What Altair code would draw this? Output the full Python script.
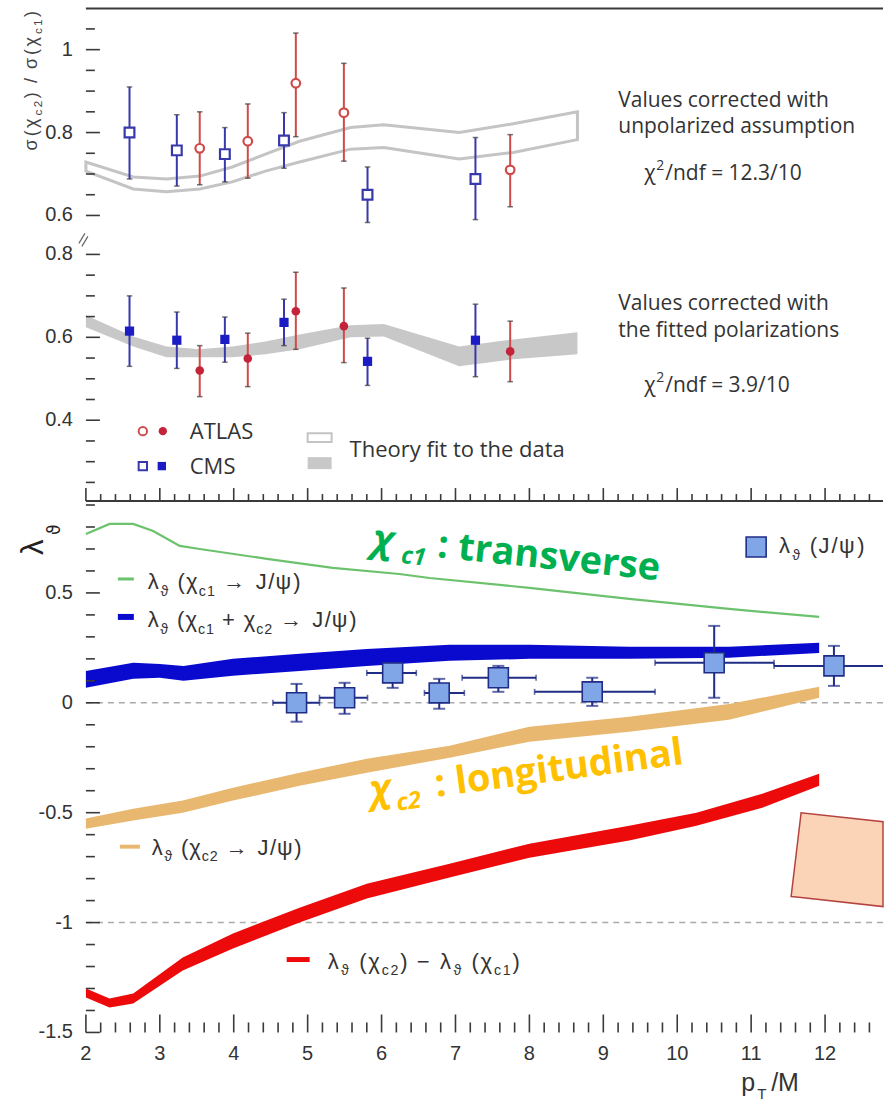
import math
import altair as alt
import pandas as pd

# ---------------- sigma(chi_c2) / sigma(chi_c1) ----------------
cms_pt = [2.59, 3.23, 3.88, 4.68, 5.81, 7.27]
cms_unpol = [0.800, 0.757, 0.748, 0.781, 0.650, 0.688]
cms_unpol_lo = [0.688, 0.671, 0.681, 0.714, 0.583, 0.590]
cms_unpol_hi = [0.910, 0.843, 0.812, 0.848, 0.717, 0.788]
cms_pol = [0.615, 0.593, 0.595, 0.636, 0.542, 0.593]
cms_pol_lo = [0.530, 0.525, 0.540, 0.580, 0.484, 0.505]
cms_pol_hi = [0.700, 0.661, 0.649, 0.692, 0.598, 0.680]

atlas_pt = [3.54, 4.19, 4.84, 5.49, 7.74]
atlas_unpol = [0.762, 0.779, 0.919, 0.848, 0.710]
atlas_unpol_lo = [0.674, 0.690, 0.790, 0.731, 0.621]
atlas_unpol_hi = [0.850, 0.869, 1.040, 0.967, 0.795]
atlas_pol = [0.520, 0.549, 0.663, 0.627, 0.566]
atlas_pol_lo = [0.457, 0.481, 0.571, 0.539, 0.493]
atlas_pol_hi = [0.580, 0.610, 0.757, 0.719, 0.639]

# theory fit to the ratio
fit_pt = [2.0, 2.64, 3.09, 3.54, 3.98, 4.43, 4.89, 5.58, 6.03, 7.05, 7.78, 8.65]
fit_unpol_lo = [0.707, 0.664, 0.657, 0.664, 0.681, 0.707, 0.729, 0.760, 0.764, 0.736, 0.752, 0.783]
fit_unpol_hi = [0.729, 0.693, 0.688, 0.695, 0.717, 0.748, 0.779, 0.812, 0.819, 0.800, 0.821, 0.850]
fit_pol_lo = [0.624, 0.578, 0.552, 0.552, 0.552, 0.559, 0.571, 0.600, 0.602, 0.530, 0.547, 0.559]
fit_pol_hi = [0.653, 0.602, 0.578, 0.571, 0.578, 0.590, 0.607, 0.629, 0.632, 0.578, 0.595, 0.612]

# ---------------- lambda_theta predictions ----------------
chic1_pt = [2.0, 2.32, 2.64, 2.91, 3.27, 3.54, 4.45, 5.34, 6.24, 6.65, 8.0, 9.35, 10.7, 11.92]
chic1_lam = [0.768, 0.814, 0.814, 0.782, 0.714, 0.700, 0.655, 0.614, 0.586, 0.568, 0.523, 0.473, 0.427, 0.391]

mix_pt = [2.0, 2.64, 3.0, 3.32, 3.99, 4.89, 5.80, 6.92, 8.0, 9.35, 10.7, 11.92]
mix_lo = [0.068, 0.109, 0.114, 0.100, 0.123, 0.145, 0.168, 0.191, 0.200, 0.200, 0.205, 0.227]
mix_hi = [0.145, 0.182, 0.177, 0.168, 0.200, 0.223, 0.245, 0.264, 0.264, 0.255, 0.255, 0.273]

chic2_pt = [2.0, 2.64, 3.31, 3.99, 4.89, 5.80, 6.92, 8.0, 9.35, 10.7, 11.92]
chic2_lo = [-0.573, -0.536, -0.500, -0.445, -0.377, -0.318, -0.250, -0.177, -0.132, -0.077, 0.023]
chic2_hi = [-0.527, -0.482, -0.445, -0.386, -0.318, -0.255, -0.195, -0.109, -0.064, -0.005, 0.073]

diff_pt = [2.0, 2.32, 2.64, 3.31, 3.99, 4.89, 5.80, 6.92, 8.0, 9.35, 10.26, 11.15, 11.92]
diff_lo = [-1.341, -1.386, -1.368, -1.218, -1.118, -1.000, -0.891, -0.795, -0.705, -0.627, -0.559, -0.477, -0.377]
diff_hi = [-1.300, -1.345, -1.323, -1.159, -1.050, -0.932, -0.823, -0.732, -0.641, -0.559, -0.500, -0.414, -0.323]

# J/psi measurement
jpsi_pt = [4.85, 5.50, 6.15, 6.78, 7.58, 8.85, 10.50, 12.12]
jpsi_pt_lo = [4.53, 5.16, 5.80, 6.58, 7.09, 8.07, 9.70, 11.31]
jpsi_pt_hi = [5.16, 5.81, 6.47, 7.12, 8.09, 9.70, 11.31, 13.00]
jpsi_lam = [0.000, 0.023, 0.136, 0.045, 0.114, 0.050, 0.182, 0.168]
jpsi_lam_lo = [-0.086, -0.050, 0.068, -0.027, 0.050, -0.014, 0.023, 0.077]
jpsi_lam_hi = [0.086, 0.091, 0.182, 0.109, 0.168, 0.114, 0.350, 0.259]

reference_levels = [0.0, -1.0]

# ---------------- tick positions and labels ----------------
x_major = [2, 3, 4, 5, 6, 7, 8, 9, 10, 11, 12]
x_minor = [round(2 + 0.2 * i, 1) for i in range(1, 54) if i % 5]
lam_major = [-1.5, -1.0, -0.5, 0.0, 0.5]
lam_minor = [round(-1.5 + 0.1 * i, 1) for i in range(1, 25) if i % 5]
ratio_major_low = [0.4, 0.6, 0.8]
ratio_minor_low = [0.25, 0.3, 0.35, 0.45, 0.5, 0.55, 0.65, 0.7, 0.75]
ratio_major_up = [0.6, 0.8, 1.0]
ratio_minor_up = [0.65, 0.7, 0.75, 0.85, 0.9, 0.95, 1.05]

# ---------------- geometry ----------------
LEFT, TOP = 86, 8
PLOT_W = 798
X_MIN = 2.0
X_MAX = 2.0 + PLOT_W / 74.0
TOP_H = 493
R_MIN, R_MAX = 0.205, 1.393
BREAK_SHIFT = 0.294          # upper (unpolarized) segment of the broken axis
BOT_Y0 = TOP + TOP_H
BOT_H = 532
L_MIN, L_MAX = -1.5, 0.918

xs = alt.Scale(domain=[X_MIN, X_MAX], nice=False, zero=False)
ys_top = alt.Scale(domain=[R_MIN, R_MAX], nice=False, zero=False)
ys_bot = alt.Scale(domain=[L_MIN, L_MAX], nice=False, zero=False)


def px_x(px):
    return X_MIN + (px - LEFT) * (X_MAX - X_MIN) / PLOT_W


def px_top(py):
    return R_MAX - (py - TOP) * (R_MAX - R_MIN) / TOP_H


def px_bot(py):
    return L_MAX - (py - BOT_Y0) * (L_MAX - L_MIN) / BOT_H


def X(field, **kw):
    return alt.X(field, type="quantitative", scale=xs, axis=None, **kw)


def Yt(field, **kw):
    return alt.Y(field, type="quantitative", scale=ys_top, axis=None, **kw)


def Yb(field, **kw):
    return alt.Y(field, type="quantitative", scale=ys_bot, axis=None, **kw)


LIB_W = {'λ': 0.5, 'ϑ': 0.6, 'χ': 0.5, 'ψ': 0.7, 'σ': 0.57, '(': 0.333, ')': 0.333,
         ' ': 0.278, '→': 1.0, 'J': 0.5, '/': 0.278, '+': 0.584, '−': 0.584,
         'c': 0.5, '1': 0.556, '2': 0.556}


def rich(x0, y0, runs, size, length=None, angle=0.0, sub_drop=0.3, sub_scale=0.65):
    """Lay out text runs (normal / subscript) glyph by glyph along a baseline."""
    a = math.radians(angle)
    ux, uy = math.cos(a), math.sin(a)
    nx, ny = -math.sin(a), math.cos(a)

    def fsz(kind):
        return size if kind == "n" else size * sub_scale

    natural = sum(LIB_W.get(ch, 0.55) * fsz(k) for t, k in runs for ch in t)
    stretch = length / natural if length else 1.0
    out, s = [], 0.0
    for t, k in runs:
        f = fsz(k)
        off = {"n": 0.0, "sub": sub_drop * size, "sup": -0.4 * size}[k]
        for ch in t:
            if ch != " ":
                out.append((x0 + ux * s + nx * off, y0 + uy * s + ny * off, ch, f))
            s += LIB_W.get(ch, 0.55) * f * stretch
    return out


def text_layer(rows, yconv, yscale, font, color, weight="normal", style="normal",
               angle=0, align="left", baseline="alphabetic"):
    df = pd.DataFrame({
        "x": [px_x(r[0]) for r in rows],
        "y": [yconv(r[1]) for r in rows],
        "t": [r[2] for r in rows],
        "fs": [r[3] for r in rows],
    })
    mk = dict(font=font, color=color, fontWeight=weight, fontStyle=style,
              align=align, baseline=baseline)
    if angle:
        mk["angle"] = angle
    return alt.Chart(df).mark_text(**mk).encode(
        x=X("x"), y=alt.Y("y:Q", scale=yscale, axis=None), text="t:N",
        size=alt.Size("fs:Q", scale=None, legend=None))


def tick_labels(values, positions, yscale, axis):
    """Numeric tick labels placed with the panel scales."""
    if axis == "y":
        df = pd.DataFrame({"x": px_x(LEFT - 13), "y": positions, "t": [f"{v:g}" for v in values]})
        mk = dict(align="right", baseline="middle")
    else:
        df = pd.DataFrame({"x": positions, "y": px_bot(BOT_Y0 + BOT_H + 12), "t": [f"{v:g}" for v in values]})
        mk = dict(align="center", baseline="top")
    return alt.Chart(df).mark_text(font="Liberation Sans", fontSize=20, color=TEXT_C, **mk).encode(
        x=X("x"), y=alt.Y("y:Q", scale=yscale, axis=None), text="t:N")


AXIS_C = "#3a3a3a"
TEXT_C = "#333333"
CMS_LINE, CMS_FILL = "#3838ad", "#1c1cc4"
ATLAS_LINE, ATLAS_FILL = "#cf4a4a", "#c4243a"
FIT_OUTLINE, FIT_FILL = "#c4c4c4", "#c8c8c8"
CAP_H = "M-1,0L1,0"
CAP_V = "M0,-1L0,1"
AXIS_LINE = dict(labels=False, ticks=False, title=None, grid=False, domainColor=AXIS_C, domainWidth=2)

# ======================= upper panel =======================
cms = pd.DataFrame({"pt": cms_pt, "u": cms_unpol, "ulo": cms_unpol_lo, "uhi": cms_unpol_hi,
                    "p": cms_pol, "plo": cms_pol_lo, "phi": cms_pol_hi})
atlas = pd.DataFrame({"pt": atlas_pt, "u": atlas_unpol, "ulo": atlas_unpol_lo, "uhi": atlas_unpol_hi,
                      "p": atlas_pol, "plo": atlas_pol_lo, "phi": atlas_pol_hi})
fit = pd.DataFrame({"pt": fit_pt, "ulo": fit_unpol_lo, "uhi": fit_unpol_hi,
                    "plo": fit_pol_lo, "phi": fit_pol_hi})


def lift(ch):
    # unpolarized values live on the upper segment of the broken axis
    return ch.transform_calculate(
        uc=f"datum.u + {BREAK_SHIFT}", ulo_c=f"datum.ulo + {BREAK_SHIFT}",
        uhi_c=f"datum.uhi + {BREAK_SHIFT}")


top_axis = alt.Chart(pd.DataFrame({"x": [X_MIN], "y": [0.5]})).mark_point(opacity=0).encode(
    x=X("x"), y=alt.Y("y:Q", scale=ys_top, axis=alt.Axis(**AXIS_LINE)))

fit_unpol = lift(alt.Chart(fit.assign(u=0.0))).mark_area(
    fillOpacity=0, stroke=FIT_OUTLINE, strokeWidth=3).encode(x=X("pt"), y=Yt("ulo_c"), y2="uhi_c:Q")
fit_pol = alt.Chart(fit).mark_area(color=FIT_FILL).encode(x=X("pt"), y=Yt("plo"), y2="phi:Q")

top_layers = [top_axis, fit_unpol, fit_pol]
for df, line_c, fill_c, shape, osize, fsize in [
        (cms, CMS_LINE, CMS_FILL, "square", 95, 85),
        (atlas, ATLAS_LINE, ATLAS_FILL, "circle", 75, 75)]:
    top_layers += [
        lift(alt.Chart(df)).mark_rule(color=line_c, strokeWidth=2).encode(
            x=X("pt"), y=Yt("ulo_c"), y2="uhi_c:Q"),
        lift(alt.Chart(df)).transform_fold(["ulo_c", "uhi_c"], as_=["k", "v"]).mark_point(
            shape=CAP_H, size=30, filled=False, color=AXIS_C, strokeWidth=1.5).encode(
            x=X("pt"), y=Yt("v")),
        alt.Chart(df).mark_rule(color=line_c, strokeWidth=2).encode(
            x=X("pt"), y=Yt("plo"), y2="phi:Q"),
        alt.Chart(df).transform_fold(["plo", "phi"], as_=["k", "v"]).mark_point(
            shape=CAP_H, size=30, filled=False, color=AXIS_C, strokeWidth=1.5).encode(
            x=X("pt"), y=Yt("v")),
        lift(alt.Chart(df)).mark_point(shape=shape, size=osize, filled=True, fill="white",
                                       stroke=line_c, strokeWidth=2.2, opacity=1).encode(
            x=X("pt"), y=Yt("uc")),
        alt.Chart(df).mark_point(shape=shape, size=fsize, filled=True, color=fill_c,
                                 opacity=1).encode(x=X("pt"), y=Yt("p")),
    ]

# legend of the upper panel
leg_pts = pd.DataFrame({
    "x": [px_x(143), px_x(163), px_x(143), px_x(162)],
    "y": [px_top(431), px_top(431), px_top(466), px_top(466)],
    "exp": ["ATLAS", "ATLAS", "CMS", "CMS"],
    "kind": ["open", "full", "open", "full"],
})
top_layers += [
    alt.Chart(leg_pts[leg_pts.kind == "open"]).mark_point(filled=True, fill="white", strokeWidth=2,
                                                          size=70, opacity=1).encode(
        x=X("x"), y=Yt("y"),
        shape=alt.Shape("exp:N", scale=alt.Scale(domain=["ATLAS", "CMS"], range=["circle", "square"]), legend=None),
        stroke=alt.Stroke("exp:N", scale=alt.Scale(domain=["ATLAS", "CMS"], range=[ATLAS_LINE, CMS_LINE]), legend=None)),
    alt.Chart(leg_pts[leg_pts.kind == "full"]).mark_point(filled=True, size=70, opacity=1).encode(
        x=X("x"), y=Yt("y"),
        shape=alt.Shape("exp:N", scale=alt.Scale(domain=["ATLAS", "CMS"], range=["circle", "square"]), legend=None),
        color=alt.Color("exp:N", scale=alt.Scale(domain=["ATLAS", "CMS"], range=[ATLAS_FILL, CMS_FILL]), legend=None)),
    alt.Chart(pd.DataFrame({"x": [px_x(308)], "x2": [px_x(332)], "y": [px_top(433)], "y2": [px_top(442)]}))
    .mark_rect(fillOpacity=0, stroke=FIT_OUTLINE, strokeWidth=2).encode(x=X("x"), x2="x2:Q", y=Yt("y"), y2="y2:Q"),
    alt.Chart(pd.DataFrame({"x": [px_x(308)], "x2": [px_x(332)], "y": [px_top(457)], "y2": [px_top(469)]}))
    .mark_rect(color=FIT_FILL).encode(x=X("x"), x2="x2:Q", y=Yt("y"), y2="y2:Q"),
    text_layer([(190, 439, "ATLAS", 22), (190, 474, "CMS", 22), (350, 457, "Theory fit to the data", 22)],
               px_top, ys_top, "Open Sans", TEXT_C),
    text_layer([(619, 106, "Values corrected with", 21), (619, 133, "unpolarized assumption", 21),
                (645, 180, "χ", 21), (657, 170, "2", 14), (666, 180, "/ndf = 12.3/10", 21),
                (619, 310, "Values corrected with", 21), (619, 337, "the fitted polarizations", 21),
                (645, 392, "χ", 21), (657, 382, "2", 14), (666, 392, "/ndf = 3.9/10", 21)],
               px_top, ys_top, "Open Sans", TEXT_C),
    # y-axis title
    text_layer(rich(37, 150, [("σ(χ", "n"), ("c2", "sub"), (") / σ(χ", "n"), ("c1", "sub"), (")", "n")],
                    18, length=142, angle=270),
               px_top, ys_top, "Liberation Sans", "#444444", angle=270),
    # tick labels of the broken axis
    tick_labels(ratio_major_low + ratio_major_up,
                ratio_major_low + [v + BREAK_SHIFT for v in ratio_major_up], ys_top, "y"),
]

# inward ticks of the upper panel
ty_rows = [(v, 14) for v in ratio_major_low] + [(v, 9) for v in ratio_minor_low] + \
          [(v + BREAK_SHIFT, 14) for v in ratio_major_up] + [(v + BREAK_SHIFT, 9) for v in ratio_minor_up]
top_yticks = pd.DataFrame({"v": [r[0] for r in ty_rows], "x": X_MIN,
                           "x2": [px_x(LEFT + r[1]) for r in ty_rows]})
tx_rows = [(v, 13) for v in x_major] + [(v, 7) for v in x_minor]
top_xticks = pd.DataFrame({"v": [r[0] for r in tx_rows], "y": R_MIN,
                           "y2": [px_top(BOT_Y0 - r[1]) for r in tx_rows]})
top_layers += [
    alt.Chart(top_yticks).mark_rule(color=AXIS_C, strokeWidth=1.6).encode(x=X("x"), x2="x2:Q", y=Yt("v")),
    alt.Chart(top_xticks).mark_rule(color=AXIS_C, strokeWidth=1.6).encode(x=X("v"), y=Yt("y"), y2="y2:Q"),
    # frame top edge
    alt.Chart(pd.DataFrame({"x": [X_MIN], "x2": [X_MAX], "y": [R_MAX]})).mark_rule(
        color=AXIS_C, strokeWidth=2).encode(x=X("x"), x2="x2:Q", y=Yt("y")),
    # axis-break marks
    alt.Chart(pd.DataFrame({"x": [px_x(79), px_x(82)], "x2": [px_x(85), px_x(88)],
                            "y": [px_top(243), px_top(246)], "y2": [px_top(233), px_top(236)]}))
    .mark_rule(color="#666666", strokeWidth=1.2).encode(x=X("x"), x2="x2:Q", y=Yt("y"), y2="y2:Q"),
    # page-origin anchor
    alt.Chart(pd.DataFrame({"a": [0]})).mark_rule(opacity=0).encode(
        x=alt.value(-LEFT), x2=alt.value(-LEFT + 2), y=alt.value(-TOP), y2=alt.value(-TOP + 2)),
]
top = alt.layer(*top_layers).properties(width=PLOT_W, height=TOP_H)

# ======================= lower panel =======================
GREEN, MIX, CHIC2, DIFF = "#6cc26c", "#0a0acf", "#e9b870", "#ec0a0a"
JPSI_FILL, JPSI_EDGE = "#80a6e8", "#1f2d86"

bot_axis = alt.Chart(pd.DataFrame({"x": [X_MIN], "y": [0.0]})).mark_point(opacity=0).encode(
    x=alt.X("x:Q", scale=xs, axis=alt.Axis(**AXIS_LINE)),
    y=alt.Y("y:Q", scale=ys_bot, axis=alt.Axis(**AXIS_LINE)))

refs = alt.Chart(pd.DataFrame({"v": reference_levels})).mark_rule(
    color="#aaaaaa", strokeDash=[6, 5], strokeWidth=1.6).encode(y=Yb("v"))

bands = [
    alt.Chart(pd.DataFrame({"pt": chic2_pt, "lo": chic2_lo, "hi": chic2_hi})).mark_area(
        color=CHIC2, opacity=1).encode(x=X("pt"), y=Yb("lo"), y2="hi:Q"),
    alt.Chart(pd.DataFrame({"pt": mix_pt, "lo": mix_lo, "hi": mix_hi})).mark_area(
        color=MIX, opacity=1).encode(x=X("pt"), y=Yb("lo"), y2="hi:Q"),
    alt.Chart(pd.DataFrame({"pt": diff_pt, "lo": diff_lo, "hi": diff_hi})).mark_area(
        color=DIFF, opacity=1).encode(x=X("pt"), y=Yb("lo"), y2="hi:Q"),
    alt.Chart(pd.DataFrame({"pt": chic1_pt, "lam": chic1_lam})).mark_line(
        color=GREEN, strokeWidth=2.2).encode(x=X("pt"), y=Yb("lam")),
]

jpsi = pd.DataFrame({"pt": jpsi_pt, "ptlo": jpsi_pt_lo, "pthi": jpsi_pt_hi,
                     "lam": jpsi_lam, "lo": jpsi_lam_lo, "hi": jpsi_lam_hi})
jpsi_layers = [
    alt.Chart(jpsi).mark_rule(color=JPSI_EDGE, strokeWidth=2, clip=True).encode(
        x=X("ptlo"), x2="pthi:Q", y=Yb("lam")),
    alt.Chart(jpsi).transform_fold(["ptlo", "pthi"], as_=["k", "v"]).mark_point(
        shape=CAP_V, size=36, filled=False, color=JPSI_EDGE, strokeWidth=1.6, clip=True).encode(
        x=X("v"), y=Yb("lam")),
    alt.Chart(jpsi).mark_rule(color=JPSI_EDGE, strokeWidth=2).encode(x=X("pt"), y=Yb("lo"), y2="hi:Q"),
    alt.Chart(jpsi).transform_fold(["lo", "hi"], as_=["k", "v"]).mark_point(
        shape=CAP_H, size=144, filled=False, color=JPSI_EDGE, strokeWidth=2).encode(
        x=X("pt"), y=Yb("v")),
    alt.Chart(jpsi).mark_point(shape="square", size=400, filled=True, fill=JPSI_FILL,
                               stroke=JPSI_EDGE, strokeWidth=1.6, opacity=1).encode(
        x=X("pt"), y=Yb("lam")),
]

# legend of the lower panel
leg_lines = pd.DataFrame({
    "x": [px_x(118), px_x(118), px_x(120), px_x(287)],
    "x2": [px_x(134), px_x(134), px_x(140), px_x(310)],
    "y": [px_bot(579), px_bot(617), px_bot(847), px_bot(960)],
    "s": ["g", "b", "o", "r"],
})
legend_layers = []
for key, col, w in [("g", GREEN, 3), ("b", MIX, 6), ("o", CHIC2, 4), ("r", DIFF, 5)]:
    legend_layers.append(alt.Chart(leg_lines[leg_lines.s == key]).mark_rule(
        color=col, strokeWidth=w).encode(x=X("x"), x2="x2:Q", y=Yb("y")))

LAM = [("λ", "n"), ("ϑ", "sub")]
leg_rows = (
    rich(148, 589, LAM + [(" (χ", "n"), ("c1", "sub"), (" → J/ψ)", "n")], 22, length=154)
    + rich(148, 627, LAM + [(" (χ", "n"), ("c1", "sub"), (" + χ", "n"), ("c2", "sub"), (" → J/ψ)", "n")],
           22, length=210)
    + rich(152, 855, LAM + [(" (χ", "n"), ("c2", "sub"), (" → J/ψ)", "n")], 22, length=151)
    + rich(328, 969, LAM + [(" (χ", "n"), ("c2", "sub"), (") − λ", "n"), ("ϑ", "sub"),
                            (" (χ", "n"), ("c1", "sub"), (")", "n")], 22, length=194)
    + rich(780, 553, LAM + [(" (J/ψ)", "n")], 22, length=87)
)
legend_layers += [
    text_layer(leg_rows, px_bot, ys_bot, "Liberation Sans", TEXT_C),
    alt.Chart(pd.DataFrame({"x": [px_x(757)], "y": [px_bot(547)]})).mark_point(
        shape="square", size=400, filled=True, fill=JPSI_FILL, stroke=JPSI_EDGE,
        strokeWidth=1.6, opacity=1).encode(x=X("x"), y=Yb("y")),
]

# polarization annotations
GREEN_TXT, GOLD_TXT = "#00b050", "#ffc000"
notes = [
    text_layer([(372, 551, "χ", 38)], px_bot, ys_bot, "Open Sans", GREEN_TXT, "bold", "italic", angle=6),
    text_layer([(401, 563, "c1", 24)], px_bot, ys_bot, "Open Sans", GREEN_TXT, "bold", "italic", angle=6),
    text_layer([(437, 557, ": transverse", 38)], px_bot, ys_bot, "Open Sans", GREEN_TXT, "bold", angle=6),
    text_layer([(372, 803, "χ", 38)], px_bot, ys_bot, "Open Sans", GOLD_TXT, "bold", "italic", angle=352.5),
    text_layer([(398, 811, "c2", 24)], px_bot, ys_bot, "Open Sans", GOLD_TXT, "bold", "italic", angle=352.5),
    text_layer([(437, 797, ": longitudinal", 38)], px_bot, ys_bot, "Open Sans", GOLD_TXT, "bold", angle=352.5),
]

# overlaid callout box
box = pd.DataFrame({"x": [px_x(792), px_x(802), X_MAX],
                    "top": [px_bot(897), px_bot(813), px_bot(822)],
                    "bottom": [px_bot(897), px_bot(898), px_bot(907)]})
box_layer = alt.Chart(box).mark_area(color="#fbd3b7", opacity=1, stroke="#b5423f",
                                     strokeWidth=1.5).encode(x=X("x"), y=Yb("bottom"), y2="top:Q")

# inward ticks of the lower panel
bx_rows = [(v, 18) for v in x_major] + [(v, 10) for v in x_minor]
bot_xticks = pd.DataFrame({"v": [r[0] for r in bx_rows], "y": L_MIN,
                           "y2": [px_bot(BOT_Y0 + BOT_H - r[1]) for r in bx_rows]})
by_rows = [(v, 14) for v in lam_major] + [(v, 9) for v in lam_minor]
bot_yticks = pd.DataFrame({"v": [r[0] for r in by_rows], "x": X_MIN,
                           "x2": [px_x(LEFT + r[1]) for r in by_rows]})
frame = [
    alt.Chart(bot_xticks).mark_rule(color=AXIS_C, strokeWidth=1.6).encode(x=X("v"), y=Yb("y"), y2="y2:Q"),
    alt.Chart(bot_yticks).mark_rule(color=AXIS_C, strokeWidth=1.6).encode(x=X("x"), x2="x2:Q", y=Yb("v")),
    alt.Chart(pd.DataFrame({"x": [X_MIN], "x2": [X_MAX], "y": [L_MAX]})).mark_rule(
        color=AXIS_C, strokeWidth=2).encode(x=X("x"), x2="x2:Q", y=Yb("y")),
    tick_labels(lam_major, lam_major, ys_bot, "y"),
    tick_labels(x_major, x_major, ys_bot, "x"),
    # axis titles
    text_layer([(742, 1092, "p", 25), (772, 1092, "/M", 25)], px_bot, ys_bot, "Liberation Sans", TEXT_C),
    text_layer([(758, 1100, "T", 15)], px_bot, ys_bot, "Liberation Sans", TEXT_C),
    text_layer([(43, 555, "λ", 31)], px_bot, ys_bot, "Liberation Sans", "#222222", angle=270),
    text_layer([(60, 535, "ϑ", 17)], px_bot, ys_bot, "DejaVu Sans", "#222222", angle=270),
    alt.Chart(pd.DataFrame({"a": [0]})).mark_rule(opacity=0).encode(
        x=alt.value(-LEFT), x2=alt.value(-LEFT + 2), y=alt.value(10), y2=alt.value(12)),
]

bottom = alt.layer(bot_axis, refs, *bands, *jpsi_layers, *legend_layers, *notes, box_layer,
                   *frame).properties(width=PLOT_W, height=BOT_H)

chart = alt.vconcat(top, bottom, spacing=0, bounds="flush").properties(padding=0).configure_view(
    stroke=None
)

chart.save("out.html", embed_options={"renderer": "svg", "actions": False})
